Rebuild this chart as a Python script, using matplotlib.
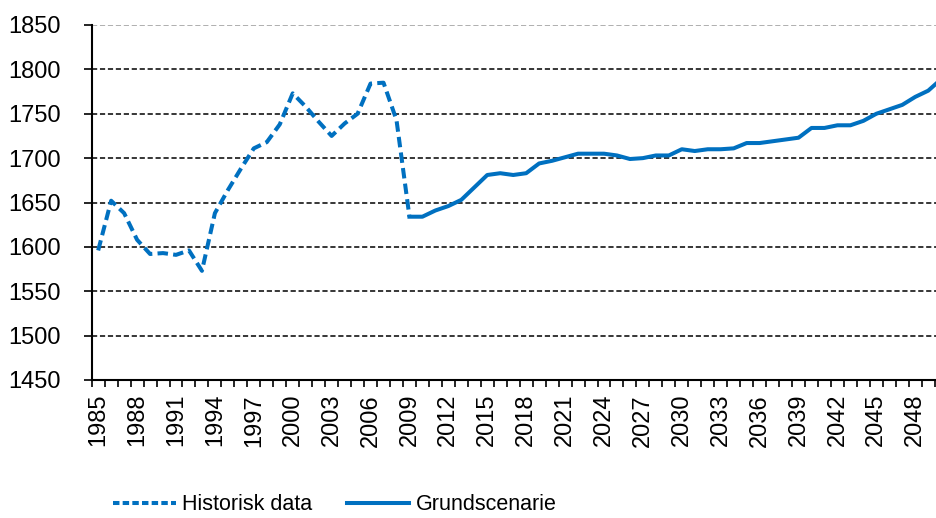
import matplotlib
matplotlib.use("Agg")
import matplotlib.pyplot as plt
from matplotlib.lines import Line2D

plt.rcParams['font.family'] = ['Liberation Sans', 'DejaVu Sans']

hist_years = list(range(1985, 2010))
hist_values = [1596, 1652, 1638, 1608, 1592, 1593, 1591, 1596, 1573, 1638,
               1664, 1688, 1711, 1718, 1738, 1773, 1758, 1741, 1725, 1739,
               1750, 1784, 1785, 1743, 1634]

base_years = list(range(2009, 2051))
base_values = [1634, 1634, 1641, 1646, 1653, 1667, 1681, 1683, 1681, 1683,
               1694, 1697, 1701, 1705, 1705, 1705, 1703, 1699, 1700, 1703,
               1703, 1710, 1708, 1710, 1710, 1711, 1717, 1717, 1719, 1721,
               1723, 1734, 1734, 1737, 1737, 1742, 1750, 1755, 1760, 1769,
               1776, 1789]

label_years = list(range(1985, 2050, 3))
y_ticks = [1450, 1500, 1550, 1600, 1650, 1700, 1750, 1800, 1850]

hist_label = "Historisk data"
base_label = "Grundscenarie"
blue = "#0070C0"

fig = plt.figure(figsize=(9.36, 5.18), dpi=100)
ax = fig.add_axes([91.7 / 936, (518 - 380) / 518, (936 - 91.7) / 936, (380 - 25) / 518])

ax.set_xlim(1984.5, 2049.6)
ax.set_ylim(1450, 1850)

# gridlines
for yv in y_ticks[1:]:
    col = "#9a9a9a" if yv == 1850 else "black"
    ax.axhline(yv, color=col, lw=1.1, linestyle=(0, (3.4, 1.8)), zorder=1)

ax.plot(hist_years, hist_values, color=blue, lw=2.9, linestyle=(0, (2.6, 1.3)),
        zorder=3, label=hist_label)
ax.plot(base_years, base_values, color=blue, lw=2.9, linestyle='-',
        zorder=3, label=base_label, clip_on=True)

for s in ['top', 'right']:
    ax.spines[s].set_visible(False)
ax.spines['left'].set_linewidth(1.5)
ax.spines['bottom'].set_linewidth(1.5)

ax.set_yticks(y_ticks)
ax.set_yticklabels([str(v) for v in y_ticks], fontsize=17)
ax.tick_params(axis='y', direction='out', length=6, width=1.2, pad=16)

# category ticks between years
minor = [y - 0.5 for y in range(1985, 2051)]
ax.set_xticks(minor, minor=True)
ax.set_xticks(label_years)
ax.set_xticklabels([str(y) for y in label_years], rotation=90, fontsize=17)
ax.tick_params(axis='x', which='major', length=0, pad=10)
ax.tick_params(axis='x', which='minor', direction='out', length=5, width=1.2)

handles = [Line2D([], [], color=blue, lw=2.9, linestyle=(0, (1.6, 0.8))),
           Line2D([], [], color=blue, lw=2.9, linestyle='-')]
fig.legend(handles, [hist_label, base_label], loc='center left',
           bbox_to_anchor=(94 / 936, 1 - 505 / 518), ncol=2, frameon=False,
           fontsize=15.5, handlelength=2.9, handletextpad=0.3, columnspacing=1.6)

fig.savefig("out.png", dpi=100)
